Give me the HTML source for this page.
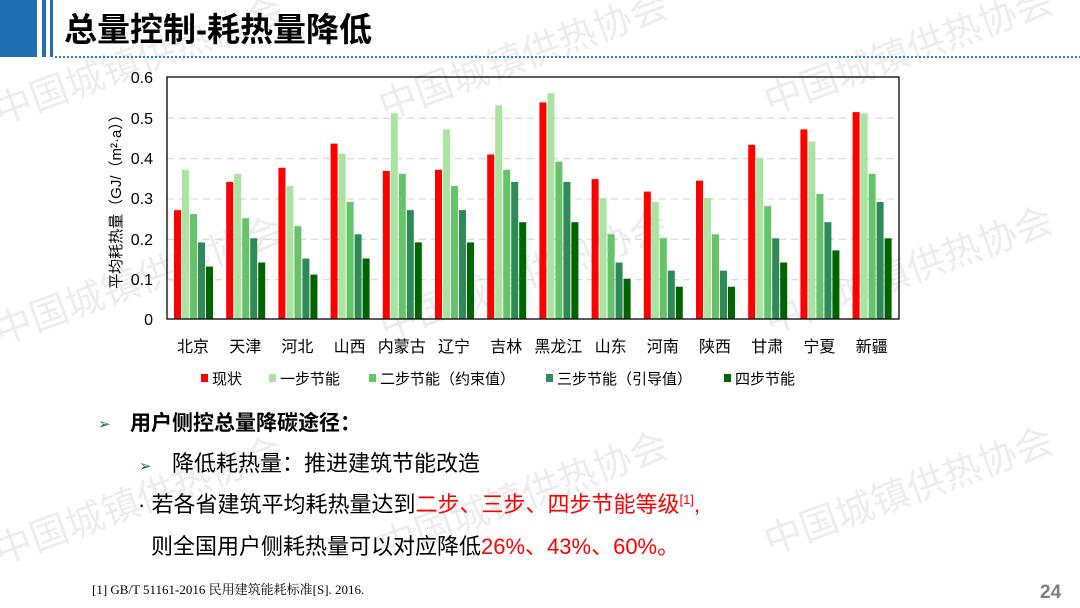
<!DOCTYPE html>
<html><head><meta charset="utf-8"><style>
html,body{margin:0;padding:0;background:#fff;}
svg{display:block;font-family:"Liberation Sans","Noto Sans CJK SC",sans-serif;}
.wm{font-size:38px;fill:#ececec;}
</style></head><body>
<svg width="1080" height="608" viewBox="0 0 1080 608">
<g class="wm">
<text transform="translate(0,125) rotate(-20)">中国城镇供热协会</text>
<text transform="translate(385,120) rotate(-20)">中国城镇供热协会</text>
<text transform="translate(770,115) rotate(-20)">中国城镇供热协会</text>
<text transform="translate(0,345) rotate(-20)">中国城镇供热协会</text>
<text transform="translate(385,340) rotate(-20)">中国城镇供热协会</text>
<text transform="translate(770,335) rotate(-20)">中国城镇供热协会</text>
<text transform="translate(0,565) rotate(-20)">中国城镇供热协会</text>
<text transform="translate(385,560) rotate(-20)">中国城镇供热协会</text>
<text transform="translate(770,555) rotate(-20)">中国城镇供热协会</text>
</g>
<rect x="0" y="0" width="37" height="57" fill="#1f6fb5"/>
<rect x="42" y="0" width="4" height="57" fill="#1f6fb5"/>
<rect x="50" y="0" width="3" height="57" fill="#1f6fb5"/>
<line x1="55" y1="57" x2="1080" y2="57" stroke="#2a7cc4" stroke-width="2" stroke-dasharray="2,2"/>
<text x="64" y="41" font-size="33" font-weight="bold" fill="#000">总量控制-耗热量降低</text>
<g stroke="#d0d0d0" stroke-width="1" stroke-dasharray="7,5">
<line x1="167" x2="899" y1="118.3" y2="118.3"/>
<line x1="167" x2="899" y1="158.7" y2="158.7"/>
<line x1="167" x2="899" y1="199" y2="199"/>
<line x1="167" x2="899" y1="239.3" y2="239.3"/>
<line x1="167" x2="899" y1="279.7" y2="279.7"/>
</g>
<g font-size="16" fill="#000" text-anchor="end">
<text x="153" y="325">0</text><text x="153" y="285">0.1</text><text x="153" y="245">0.2</text><text x="153" y="204">0.3</text><text x="153" y="164">0.4</text><text x="153" y="124">0.5</text><text x="153" y="83">0.6</text>
</g>
<text transform="translate(121,198) rotate(-90)" font-size="15" text-anchor="middle">平均耗热量（GJ/（m²·a））</text>
<g>
<g transform="translate(174,319) scale(1,-1)"><rect x="0" width="7" height="108.9" fill="#ff0000"/><rect x="8" width="7" height="149.2" fill="#a9e4a0"/><rect x="16" width="7" height="104.9" fill="#66c36a"/><rect x="24" width="7" height="76.6" fill="#2e8b57"/><rect x="32" width="7" height="52.4" fill="#006400"/></g>
<g transform="translate(226.2,319) scale(1,-1)"><rect x="0" width="7" height="137.1" fill="#ff0000"/><rect x="8" width="7" height="145.2" fill="#a9e4a0"/><rect x="16" width="7" height="100.8" fill="#66c36a"/><rect x="24" width="7" height="80.7" fill="#2e8b57"/><rect x="32" width="7" height="56.5" fill="#006400"/></g>
<g transform="translate(278.4,319) scale(1,-1)"><rect x="0" width="7" height="151.2" fill="#ff0000"/><rect x="8" width="7" height="133.1" fill="#a9e4a0"/><rect x="16" width="7" height="92.8" fill="#66c36a"/><rect x="24" width="7" height="60.5" fill="#2e8b57"/><rect x="32" width="7" height="44.4" fill="#006400"/></g>
<g transform="translate(330.6,319) scale(1,-1)"><rect x="0" width="7" height="175.4" fill="#ff0000"/><rect x="8" width="7" height="165.4" fill="#a9e4a0"/><rect x="16" width="7" height="117" fill="#66c36a"/><rect x="24" width="7" height="84.7" fill="#2e8b57"/><rect x="32" width="7" height="60.5" fill="#006400"/></g>
<g transform="translate(382.8,319) scale(1,-1)"><rect x="0" width="7" height="148" fill="#ff0000"/><rect x="8" width="7" height="205.7" fill="#a9e4a0"/><rect x="16" width="7" height="145.2" fill="#66c36a"/><rect x="24" width="7" height="108.9" fill="#2e8b57"/><rect x="32" width="7" height="76.6" fill="#006400"/></g>
<g transform="translate(435,319) scale(1,-1)"><rect x="0" width="7" height="149.2" fill="#ff0000"/><rect x="8" width="7" height="189.6" fill="#a9e4a0"/><rect x="16" width="7" height="133.1" fill="#66c36a"/><rect x="24" width="7" height="108.9" fill="#2e8b57"/><rect x="32" width="7" height="76.6" fill="#006400"/></g>
<g transform="translate(487.2,319) scale(1,-1)"><rect x="0" width="7" height="164.5" fill="#ff0000"/><rect x="8" width="7" height="213.7" fill="#a9e4a0"/><rect x="16" width="7" height="149.2" fill="#66c36a"/><rect x="24" width="7" height="137.1" fill="#2e8b57"/><rect x="32" width="7" height="96.8" fill="#006400"/></g>
<g transform="translate(539.4,319) scale(1,-1)"><rect x="0" width="7" height="216.6" fill="#ff0000"/><rect x="8" width="7" height="225.8" fill="#a9e4a0"/><rect x="16" width="7" height="157.3" fill="#66c36a"/><rect x="24" width="7" height="137.1" fill="#2e8b57"/><rect x="32" width="7" height="96.8" fill="#006400"/></g>
<g transform="translate(591.6,319) scale(1,-1)"><rect x="0" width="7" height="139.9" fill="#ff0000"/><rect x="8" width="7" height="121" fill="#a9e4a0"/><rect x="16" width="7" height="84.7" fill="#66c36a"/><rect x="24" width="7" height="56.5" fill="#2e8b57"/><rect x="32" width="7" height="40.3" fill="#006400"/></g>
<g transform="translate(643.8,319) scale(1,-1)"><rect x="0" width="7" height="127.4" fill="#ff0000"/><rect x="8" width="7" height="117" fill="#a9e4a0"/><rect x="16" width="7" height="80.7" fill="#66c36a"/><rect x="24" width="7" height="48.4" fill="#2e8b57"/><rect x="32" width="7" height="32.3" fill="#006400"/></g>
<g transform="translate(696,319) scale(1,-1)"><rect x="0" width="7" height="138.3" fill="#ff0000"/><rect x="8" width="7" height="121" fill="#a9e4a0"/><rect x="16" width="7" height="84.7" fill="#66c36a"/><rect x="24" width="7" height="48.4" fill="#2e8b57"/><rect x="32" width="7" height="32.3" fill="#006400"/></g>
<g transform="translate(748.2,319) scale(1,-1)"><rect x="0" width="7" height="174.2" fill="#ff0000"/><rect x="8" width="7" height="161.3" fill="#a9e4a0"/><rect x="16" width="7" height="112.9" fill="#66c36a"/><rect x="24" width="7" height="80.7" fill="#2e8b57"/><rect x="32" width="7" height="56.5" fill="#006400"/></g>
<g transform="translate(800.4,319) scale(1,-1)"><rect x="0" width="7" height="189.6" fill="#ff0000"/><rect x="8" width="7" height="177.5" fill="#a9e4a0"/><rect x="16" width="7" height="125" fill="#66c36a"/><rect x="24" width="7" height="96.8" fill="#2e8b57"/><rect x="32" width="7" height="68.6" fill="#006400"/></g>
<g transform="translate(852.6,319) scale(1,-1)"><rect x="0" width="7" height="206.9" fill="#ff0000"/><rect x="8" width="7" height="205.7" fill="#a9e4a0"/><rect x="16" width="7" height="145.2" fill="#66c36a"/><rect x="24" width="7" height="117" fill="#2e8b57"/><rect x="32" width="7" height="80.7" fill="#006400"/></g>
</g>
<rect x="167" y="77" width="732" height="242" fill="none" stroke="#000" stroke-width="1.3"/>
<g font-size="16" text-anchor="middle" fill="#000">
<text x="193" y="352">北京</text><text x="245.2" y="352">天津</text><text x="297.4" y="352">河北</text><text x="349.6" y="352">山西</text><text x="401.8" y="352">内蒙古</text><text x="454" y="352">辽宁</text><text x="506.2" y="352">吉林</text><text x="558.4" y="352">黑龙江</text><text x="610.6" y="352">山东</text><text x="662.8" y="352">河南</text><text x="715" y="352">陕西</text><text x="767.2" y="352">甘肃</text><text x="819.4" y="352">宁夏</text><text x="871.6" y="352">新疆</text>
</g>
<g font-size="15" fill="#000">
<rect x="201" y="374" width="7" height="8" fill="#ff0000"/><text x="212" y="384">现状</text>
<rect x="269" y="374" width="7" height="8" fill="#a9e4a0"/><text x="280" y="384">一步节能</text>
<rect x="369" y="374" width="7" height="8" fill="#66c36a"/><text x="380" y="384">二步节能（约束值）</text>
<rect x="546" y="374" width="7" height="8" fill="#2e8b57"/><text x="557" y="384">三步节能（引导值）</text>
<rect x="724" y="374" width="7" height="8" fill="#006400"/><text x="735" y="384">四步节能</text>
</g>
<text x="98" y="429" font-size="15" fill="#1e6b5a">➢</text>
<text x="130" y="430" font-size="21" font-weight="bold" fill="#000">用户侧控总量降碳途径：</text>
<text x="139" y="471" font-size="15" fill="#1e6b5a">➢</text>
<text x="172" y="471" font-size="22" fill="#000">降低耗热量：推进建筑节能改造</text>
<text x="138" y="512" font-size="22" fill="#000">· 若各省建筑平均耗热量达到<tspan fill="#ff0000">二步、三步、四步节能等级</tspan><tspan fill="#ff0000" font-size="13" dy="-8">[1]</tspan><tspan fill="#ff0000" dy="8">,</tspan></text>
<text x="151" y="554" font-size="22" fill="#000">则全国用户侧耗热量可以对应降低<tspan fill="#ff0000">26%、43%、60%。</tspan></text>
<text x="92" y="594" font-size="13" fill="#000" font-family="Liberation Serif,'Noto Serif CJK SC',serif">[1] GB/T 51161-2016 民用建筑能耗标准[S]. 2016.</text>
<text x="1040" y="598" font-size="19" font-weight="bold" fill="#7f7f7f">24</text>
</svg>
</body></html>
